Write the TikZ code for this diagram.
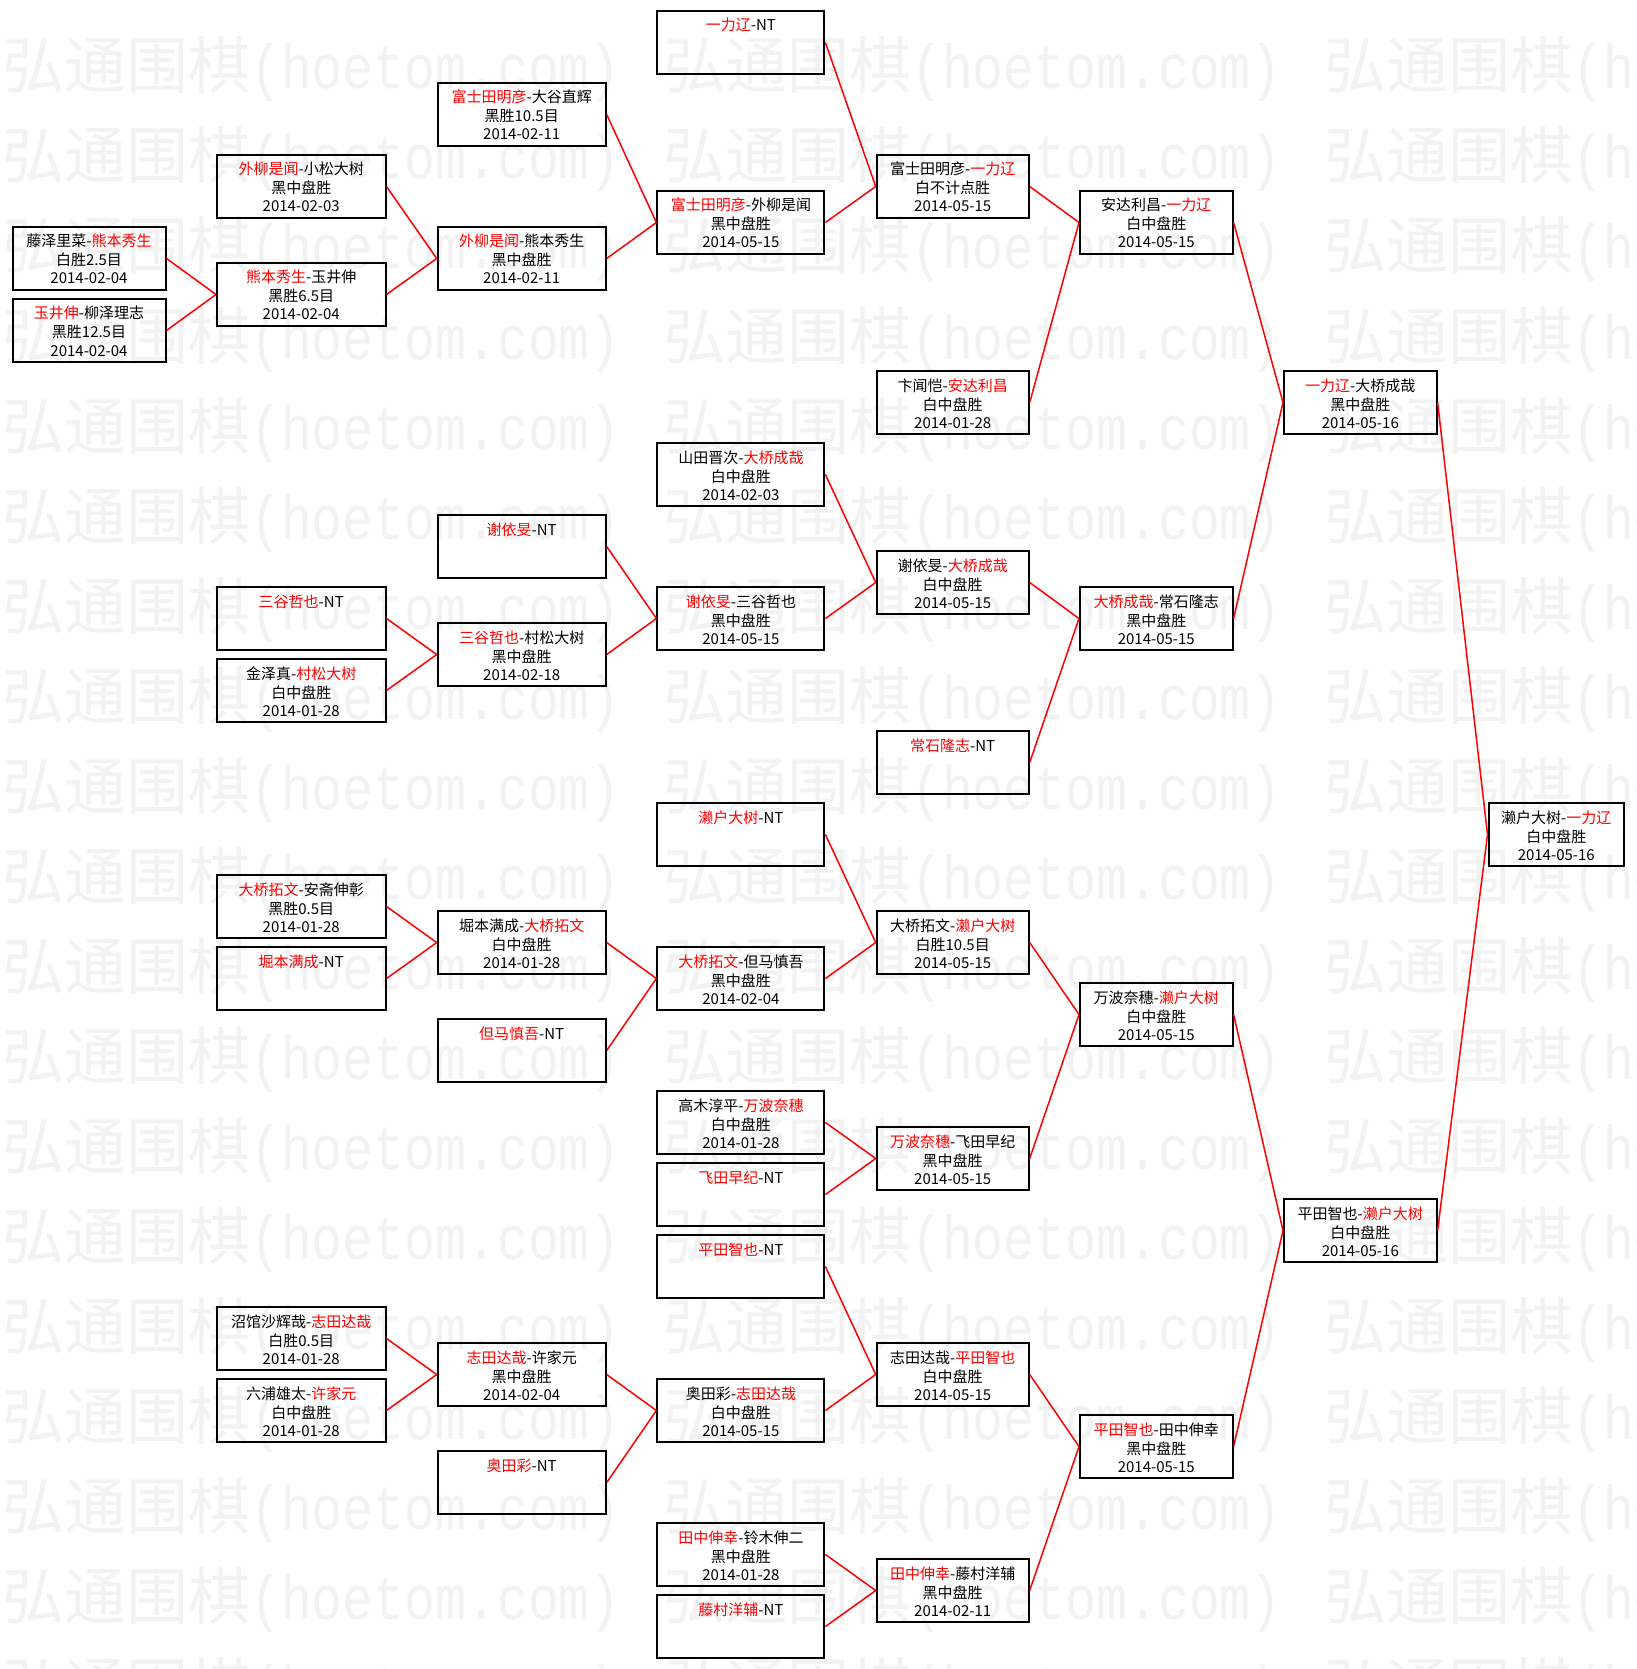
\documentclass[tikz,border=0pt]{standalone}
\usepackage{fontspec}
\usepackage{graphicx}
\setmainfont{Noto Sans CJK SC}
\newfontfamily\wmmono{Liberation Mono}
\newcommand{\R}[1]{\textcolor{red}{#1}}
\newcommand{\boxthree}[4]{\parbox[t][63pt][t]{#1pt}{\centering\rule{0pt}{20pt}#2\\#3\\[-1pt]#4}}
\newcommand{\boxone}[2]{\parbox[t][63pt][t]{#1pt}{\centering\rule{0pt}{20pt}#2}}
\tikzset{
  mbox/.style={draw=black, line width=2pt, inner sep=0pt, outer sep=1pt, font=\fontsize{15}{19}\selectfont},
  link/.style={draw=red, line width=1.5pt},
  wm/.style={inner sep=0pt, anchor=base west, text=black!5, font=\fontsize{62}{62}\selectfont}
}
\begin{document}
\begin{tikzpicture}[x=1pt,y=-1pt]
\useasboundingbox[fill=white] (0,0) rectangle (1636,1669);
% watermark
\begin{scope}
\clip (0,0) rectangle (1636,1669);
\foreach \r in {0,...,18}{
  \foreach \c in {0,1,2}{
    \node[wm] (wm-\r-\c) at (2+661*\c, 89+90*\r) {弘通围棋\scalebox{0.83}[1]{\wmmono(hoetom.com)}};
  }
}
\end{scope}
% column 0
\node[mbox] (n0a) at (89,42.5+36*6) {\boxthree{153}{藤泽里菜-\R{熊本秀生}}{白胜2.5目}{2014-02-04}};
\node[mbox] (n0b) at (89,42.5+36*8) {\boxthree{153}{\R{玉井伸}-柳泽理志}{黑胜12.5目}{2014-02-04}};
% column 1
\node[mbox] (n1a) at (301.25,42.5+36*4) {\boxthree{168.5}{\R{外柳是闻}-小松大树}{黑中盘胜}{2014-02-03}};
\node[mbox] (n1b) at (301.25,42.5+36*7) {\boxthree{168.5}{\R{熊本秀生}-玉井伸}{黑胜6.5目}{2014-02-04}};
\node[mbox] (n1c) at (301.25,42.5+36*16) {\boxone{168.5}{\R{三谷哲也}-NT}};
\node[mbox] (n1d) at (301.25,42.5+36*18) {\boxthree{168.5}{金泽真-\R{村松大树}}{白中盘胜}{2014-01-28}};
\node[mbox] (n1e) at (301.25,42.5+36*24) {\boxthree{168.5}{\R{大桥拓文}-安斋伸彰}{黑胜0.5目}{2014-01-28}};
\node[mbox] (n1f) at (301.25,42.5+36*26) {\boxone{168.5}{\R{堀本满成}-NT}};
\node[mbox] (n1g) at (301.25,42.5+36*36) {\boxthree{168.5}{沼馆沙辉哉-\R{志田达哉}}{白胜0.5目}{2014-01-28}};
\node[mbox] (n1h) at (301.25,42.5+36*38) {\boxthree{168.5}{六浦雄太-\R{许家元}}{白中盘胜}{2014-01-28}};
% column 2
\node[mbox] (n2a) at (521.7,42.5+36*2) {\boxthree{168}{\R{富士田明彦}-大谷直辉}{黑胜10.5目}{2014-02-11}};
\node[mbox] (n2b) at (521.7,42.5+36*6) {\boxthree{168}{\R{外柳是闻}-熊本秀生}{黑中盘胜}{2014-02-11}};
\node[mbox] (n2c) at (521.7,42.5+36*14) {\boxone{168}{\R{谢依旻}-NT}};
\node[mbox] (n2d) at (521.7,42.5+36*17) {\boxthree{168}{\R{三谷哲也}-村松大树}{黑中盘胜}{2014-02-18}};
\node[mbox] (n2e) at (521.7,42.5+36*25) {\boxthree{168}{堀本满成-\R{大桥拓文}}{白中盘胜}{2014-01-28}};
\node[mbox] (n2f) at (521.7,42.5+36*28) {\boxone{168}{\R{但马慎吾}-NT}};
\node[mbox] (n2g) at (521.7,42.5+36*37) {\boxthree{168}{\R{志田达哉}-许家元}{黑中盘胜}{2014-02-04}};
\node[mbox] (n2h) at (521.7,42.5+36*40) {\boxone{168}{\R{奥田彩}-NT}};
% column 3
\node[mbox] (n3a) at (740.9,42.5+36*0) {\boxone{167}{\R{一力辽}-NT}};
\node[mbox] (n3b) at (740.9,42.5+36*5) {\boxthree{167}{\R{富士田明彦}-外柳是闻}{黑中盘胜}{2014-05-15}};
\node[mbox] (n3c) at (740.9,42.5+36*12) {\boxthree{167}{山田晋次-\R{大桥成哉}}{白中盘胜}{2014-02-03}};
\node[mbox] (n3d) at (740.9,42.5+36*16) {\boxthree{167}{\R{谢依旻}-三谷哲也}{黑中盘胜}{2014-05-15}};
\node[mbox] (n3e) at (740.9,42.5+36*22) {\boxone{167}{\R{濑户大树}-NT}};
\node[mbox] (n3f) at (740.9,42.5+36*26) {\boxthree{167}{\R{大桥拓文}-但马慎吾}{黑中盘胜}{2014-02-04}};
\node[mbox] (n3g) at (740.9,42.5+36*30) {\boxthree{167}{高木淳平-\R{万波奈穗}}{白中盘胜}{2014-01-28}};
\node[mbox] (n3h) at (740.9,42.5+36*32) {\boxone{167}{\R{飞田早纪}-NT}};
\node[mbox] (n3i) at (740.9,42.5+36*34) {\boxone{167}{\R{平田智也}-NT}};
\node[mbox] (n3j) at (740.9,42.5+36*38) {\boxthree{167}{奥田彩-\R{志田达哉}}{白中盘胜}{2014-05-15}};
\node[mbox] (n3k) at (740.9,42.5+36*42) {\boxthree{167}{\R{田中伸幸}-铃木伸二}{黑中盘胜}{2014-01-28}};
\node[mbox] (n3l) at (740.9,42.5+36*44) {\boxone{167}{\R{藤村洋辅}-NT}};
% column 4
\node[mbox] (n4a) at (952.7,42.5+36*4) {\boxthree{152}{富士田明彦-\R{一力辽}}{白不计点胜}{2014-05-15}};
\node[mbox] (n4b) at (952.7,42.5+36*10) {\boxthree{152}{卞闻恺-\R{安达利昌}}{白中盘胜}{2014-01-28}};
\node[mbox] (n4c) at (952.7,42.5+36*15) {\boxthree{152}{谢依旻-\R{大桥成哉}}{白中盘胜}{2014-05-15}};
\node[mbox] (n4d) at (952.7,42.5+36*20) {\boxone{152}{\R{常石隆志}-NT}};
\node[mbox] (n4e) at (952.7,42.5+36*25) {\boxthree{152}{大桥拓文-\R{濑户大树}}{白胜10.5目}{2014-05-15}};
\node[mbox] (n4f) at (952.7,42.5+36*31) {\boxthree{152}{\R{万波奈穗}-飞田早纪}{黑中盘胜}{2014-05-15}};
\node[mbox] (n4g) at (952.7,42.5+36*37) {\boxthree{152}{志田达哉-\R{平田智也}}{白中盘胜}{2014-05-15}};
\node[mbox] (n4h) at (952.7,42.5+36*43) {\boxthree{152}{\R{田中伸幸}-藤村洋辅}{黑中盘胜}{2014-02-11}};
% column 5
\node[mbox] (n5a) at (1156.3,42.5+36*5) {\boxthree{152.6}{安达利昌-\R{一力辽}}{白中盘胜}{2014-05-15}};
\node[mbox] (n5b) at (1156.3,42.5+36*16) {\boxthree{152.6}{\R{大桥成哉}-常石隆志}{黑中盘胜}{2014-05-15}};
\node[mbox] (n5c) at (1156.3,42.5+36*27) {\boxthree{152.6}{万波奈穗-\R{濑户大树}}{白中盘胜}{2014-05-15}};
\node[mbox] (n5d) at (1156.3,42.5+36*39) {\boxthree{152.6}{\R{平田智也}-田中伸幸}{黑中盘胜}{2014-05-15}};
% column 6
\node[mbox] (n6a) at (1360.3,42.5+36*10) {\boxthree{152.6}{\R{一力辽}-大桥成哉}{黑中盘胜}{2014-05-16}};
\node[mbox] (n6b) at (1360.3,42.5+36*33) {\boxthree{152.6}{平田智也-\R{濑户大树}}{白中盘胜}{2014-05-16}};
% column 7
\node[mbox] (n7a) at (1556.25,42.5+36*22) {\boxthree{135.5}{濑户大树-\R{一力辽}}{白中盘胜}{2014-05-16}};
% connectors
\foreach \a/\b in {n0a/n1b,n0b/n1b,
  n1a/n2b,n1b/n2b,n1c/n2d,n1d/n2d,n1e/n2e,n1f/n2e,n1g/n2g,n1h/n2g,
  n2a/n3b,n2b/n3b,n2c/n3d,n2d/n3d,n2e/n3f,n2f/n3f,n2g/n3j,n2h/n3j,
  n3a/n4a,n3b/n4a,n3c/n4c,n3d/n4c,n3e/n4e,n3f/n4e,n3g/n4f,n3h/n4f,n3i/n4g,n3j/n4g,n3k/n4h,n3l/n4h,
  n4a/n5a,n4b/n5a,n4c/n5b,n4d/n5b,n4e/n5c,n4f/n5c,n4g/n5d,n4h/n5d,
  n5a/n6a,n5b/n6a,n5c/n6b,n5d/n6b,
  n6a/n7a,n6b/n7a}{
  \draw[link] (\a.east) -- (\b.west);
}
\end{tikzpicture}
\end{document}
